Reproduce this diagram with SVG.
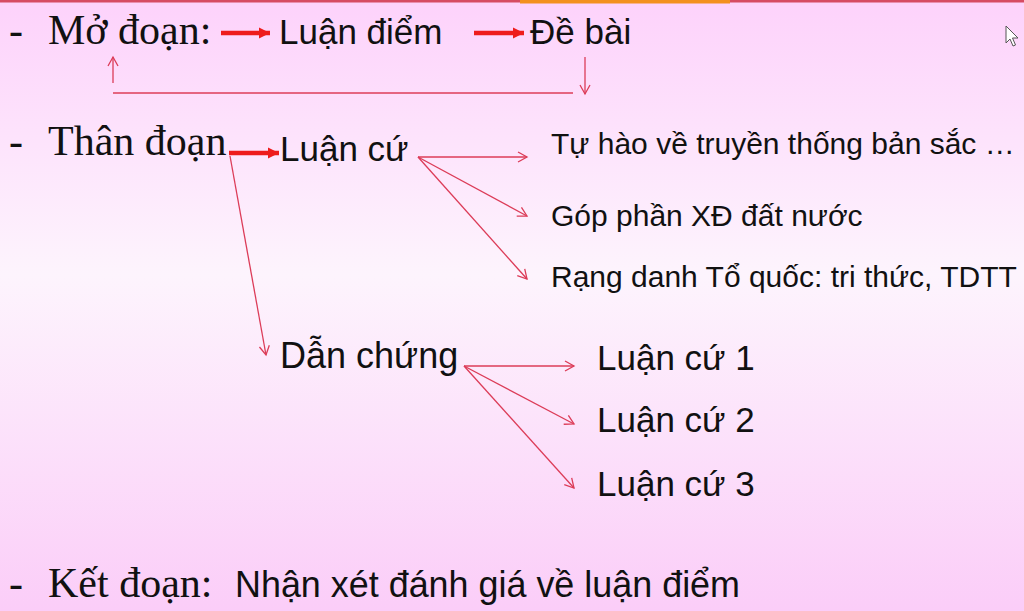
<svg xmlns="http://www.w3.org/2000/svg" width="1024" height="611" viewBox="0 0 1024 611">
  <defs>
    <linearGradient id="bg" x1="0" y1="0" x2="0" y2="1">
      <stop offset="0" stop-color="#fdd2fb"/>
      <stop offset="0.45" stop-color="#fdf4fd"/>
      <stop offset="1" stop-color="#fbcdf8"/>
    </linearGradient>
    <marker id="thin" markerUnits="userSpaceOnUse" markerWidth="14" markerHeight="14" refX="10" refY="6" orient="auto">
      <path d="M1,1 L10,6 L1,11" fill="none" stroke="#dc3c58" stroke-width="1.3"/>
    </marker>
    <marker id="thick" markerUnits="userSpaceOnUse" markerWidth="14" markerHeight="14" refX="11" refY="6" orient="auto">
      <path d="M0,0.5 L11,6 L0,11.5 Z" fill="#ee1c1c"/>
    </marker>
    <style>
      .serif { font-family: "Liberation Serif", "Times New Roman", serif; font-size: 42px; fill: #111; }
      .sans { font-family: "Liberation Sans", Arial, sans-serif; fill: #111; }
      .big { font-size: 35px; }
      .small { font-size: 30px; }
      .thin { stroke: #dc3c58; stroke-width: 1.3; fill: none; }
      .thick { stroke: #ee1c1c; stroke-width: 4.5; fill: none; }
    </style>
  </defs>
  <rect x="0" y="0" width="1024" height="611" fill="url(#bg)"/>
  <rect x="0" y="0" width="1024" height="2.5" fill="#d64b62"/>
  <rect x="520" y="0" width="210" height="3.5" fill="#f3901e"/>

  <g id="mo-doan">
    <text class="serif" x="9" y="44">-</text>
    <text class="serif" x="48" y="44">Mở đoạn:</text>
  </g>
  <g id="luan-diem">
    <text class="sans big" x="279" y="44">Luận điểm</text>
  </g>
  <g id="de-bai">
    <text class="sans big" x="530" y="44">Đề bài</text>
  </g>

  <g id="than-doan">
    <text class="serif" x="9" y="155">-</text>
    <text class="serif" x="48" y="155">Thân đoạn</text>
  </g>
  <g id="luan-cu">
    <text class="sans big" x="280" y="161">Luận cứ</text>
  </g>
  <g id="tu-hao">
    <text class="sans small" x="551" y="154">Tự hào về truyền thống bản sắc …</text>
  </g>
  <g id="gop-phan">
    <text class="sans small" x="551" y="226">Góp phần XĐ đất nước</text>
  </g>
  <g id="rang-danh">
    <text class="sans small" x="551" y="287">Rạng danh Tổ quốc: tri thức, TDTT</text>
  </g>
  <g id="dan-chung">
    <text class="sans" font-size="36" x="280" y="368">Dẫn chứng</text>
  </g>
  <g id="luan-cu-1">
    <text class="sans big" x="597" y="370">Luận cứ 1</text>
  </g>
  <g id="luan-cu-2">
    <text class="sans big" x="597" y="432">Luận cứ 2</text>
  </g>
  <g id="luan-cu-3">
    <text class="sans big" x="597" y="496">Luận cứ 3</text>
  </g>

  <g id="ket-doan">
    <text class="serif" x="9" y="597">-</text>
    <text class="serif" x="48" y="597">Kết đoạn:</text>
    <text class="sans" x="235" y="597" font-size="37" textLength="505" lengthAdjust="spacingAndGlyphs">Nhận xét đánh giá về luận điểm</text>
  </g>

  <g id="connectors">
    <line class="thick" x1="221" y1="33" x2="270" y2="33" marker-end="url(#thick)"/>
    <line class="thick" x1="474" y1="33" x2="524" y2="33" marker-end="url(#thick)"/>
    <line class="thin" x1="113" y1="83" x2="113" y2="57" marker-end="url(#thin)"/>
    <line class="thin" x1="113" y1="93" x2="573" y2="93"/>
    <line class="thin" x1="585" y1="57" x2="585" y2="94" marker-end="url(#thin)"/>
    <line class="thick" x1="229" y1="153" x2="279" y2="153" marker-end="url(#thick)"/>
    <line class="thin" x1="230" y1="156" x2="266" y2="355" marker-end="url(#thin)"/>
    <line class="thin" x1="418" y1="157" x2="527" y2="157" marker-end="url(#thin)"/>
    <line class="thin" x1="418" y1="157" x2="527" y2="216" marker-end="url(#thin)"/>
    <line class="thin" x1="418" y1="157" x2="527" y2="279" marker-end="url(#thin)"/>
    <line class="thin" x1="464" y1="366" x2="574" y2="366" marker-end="url(#thin)"/>
    <line class="thin" x1="464" y1="366" x2="574" y2="424" marker-end="url(#thin)"/>
    <line class="thin" x1="464" y1="366" x2="574" y2="488" marker-end="url(#thin)"/>
  </g>

  <path d="M1006,26 L1006,43 L1010,39 L1013,46 L1015.5,45 L1012.5,38 L1018,38 Z" fill="#ffffff" stroke="#555" stroke-width="1"/>
</svg>
